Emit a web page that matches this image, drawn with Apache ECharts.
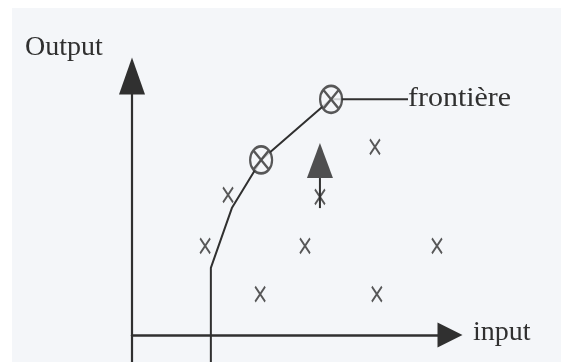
<!DOCTYPE html>
<html>
<head>
<meta charset="utf-8">
<script src="https://cdn.jsdelivr.net/npm/echarts@6/dist/echarts.min.js"></script>
<style>
  html, body { margin: 0; padding: 0; background: #ffffff; }
  #chart-frontier { width: 561px; height: 362px; }
</style>
</head>
<body>
<div id="chart-frontier"></div>
<script>
// frontier (input, output)
const frontierInput = [2.48, 2.48, 3.14, 4.06, 6.26, 8.68]
const frontierOutput = [-1.05, 2.59, 4.9, 6.76, 9.1, 9.1]
// efficient units on the frontier
const efficientInput = [4.06, 6.26]
const efficientOutput = [6.76, 9.1]
// observed units (x)
const firmInput = [2.3, 5.44, 9.59, 4.03, 7.7, 7.64, 3.02, 5.91]
const firmOutput = [3.44, 3.44, 3.44, 1.58, 1.58, 7.26, 5.41, 5.33]
// projection arrow
const arrowInput = [5.91, 5.91]
const arrowOutput = [4.9, 6.06]
const arrowHead = [5.91, 6.74]

const ink = '#303030'
const paper = '#f4f6f9'
const serif = '"Liberation Serif", "DejaVu Serif", serif'

const pairs = (xs, ys) => xs.map((x, i) => [x, ys[i]])

let chartDom = document.getElementById('chart-frontier')
let myChart = echarts.init(chartDom)

myChart.setOption({
  animation: false,
  backgroundColor: '#ffffff',
  grid: {
    left: 132,
    top: 76,
    width: 318,
    bottom: 0,
  },
  xAxis: {
    type: 'value',
    min: 0,
    max: 10,
    axisLine: {
      onZero: true,
      symbol: ['none', 'triangle'],
      symbolSize: [25, 25],
      lineStyle: { color: ink, width: 2.5 },
    },
    axisTick: { show: false },
    axisLabel: { show: false },
    splitLine: { show: false },
  },
  yAxis: {
    type: 'value',
    min: -1.0425,
    max: 10,
    axisLine: {
      show: true,
      onZero: true,
      symbol: ['none', 'triangle'],
      symbolSize: [26, 37],
      lineStyle: { color: ink, width: 2.2 },
    },
    axisTick: { show: false },
    axisLabel: { show: false },
    splitLine: { show: false },
  },
  graphic: [
    {
      type: 'rect',
      z: -10,
      silent: true,
      shape: { x: 12, y: 8, width: 549, height: 354 },
      style: { fill: paper },
    },
    {
      type: 'text',
      style: { text: 'Output', x: 25, y: 48, font: '28px ' + serif, fill: ink, textVerticalAlign: 'middle' },
    },
    {
      type: 'text',
      style: { text: 'input', x: 473, y: 333, font: '28px ' + serif, fill: ink, textVerticalAlign: 'middle' },
    },
    {
      type: 'text',
      x: 408,
      y: 99,
      scaleX: 1.07,
      style: { text: 'frontière', x: 0, y: 0, font: '28px ' + serif, fill: ink, textVerticalAlign: 'middle' },
    },
  ],
  series: [
    {
      name: 'frontière',
      type: 'line',
      data: pairs(frontierInput, frontierOutput),
      symbol: 'none',
      lineStyle: { color: ink, width: 2 },
      z: 2,
    },
    {
      name: 'projection',
      type: 'line',
      data: pairs(arrowInput, arrowOutput),
      symbol: 'none',
      lineStyle: { color: ink, width: 2 },
      z: 2,
    },
    {
      name: 'arrow',
      type: 'scatter',
      data: [arrowHead],
      symbol: 'triangle',
      symbolSize: [26, 35],
      itemStyle: { color: '#262626' },
      z: 3,
    },
    {
      name: 'efficient',
      type: 'scatter',
      data: pairs(efficientInput, efficientOutput),
      symbol: 'path://M0,-1 A1,1 0 1,1 0,1 A1,1 0 1,1 0,-1 Z M-0.7,-0.7 L0.7,0.7 M0.7,-0.7 L-0.7,0.7',
      symbolSize: [22, 27],
      itemStyle: { color: paper, borderColor: ink, borderWidth: 2.4 },
      z: 4,
    },
    {
      name: 'units',
      type: 'scatter',
      data: pairs(firmInput, firmOutput),
      symbol: 'path://M0,0 L10,15 M10,0 L0,15',
      symbolSize: [10, 15],
      itemStyle: { color: 'none', borderColor: ink, borderWidth: 2 },
      z: 4,
    },
  ],
})
</script>
</body>
</html>
